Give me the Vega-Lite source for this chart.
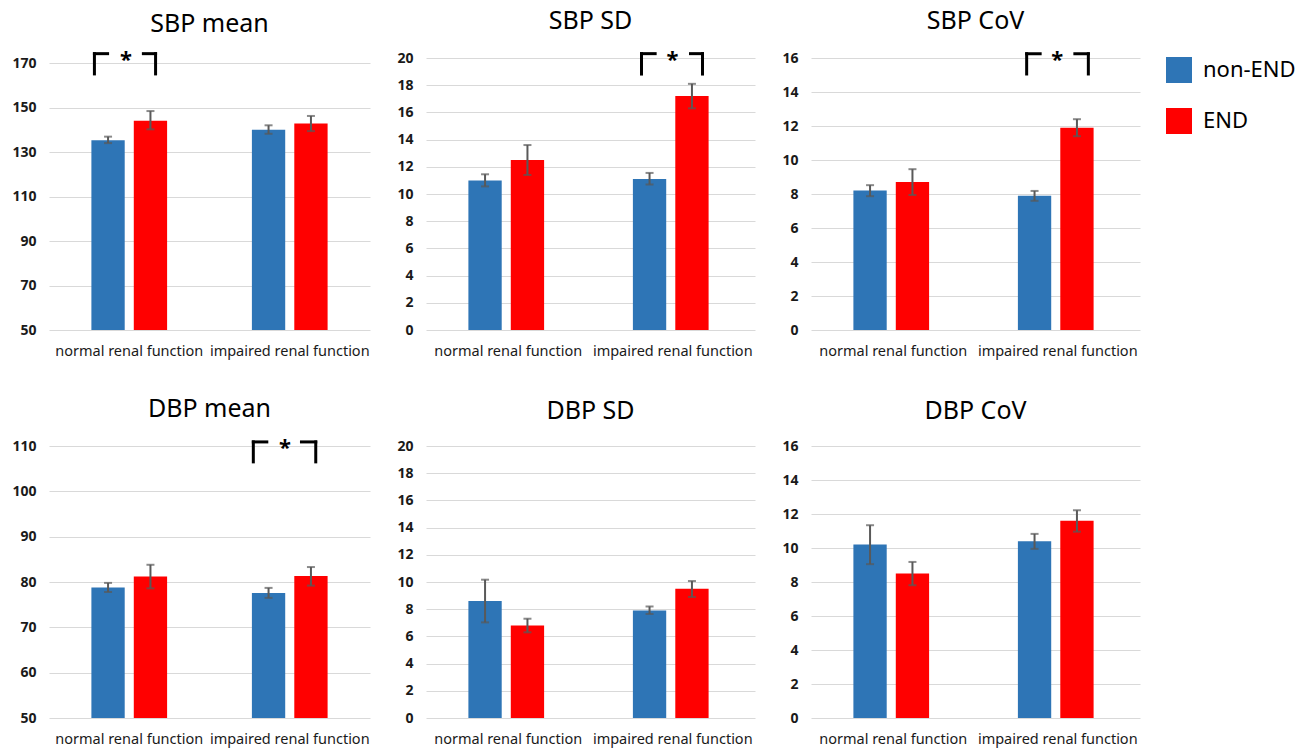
{
  "$schema": "https://vega.github.io/schema/vega-lite/v6.json",
  "background": "white",
  "padding": {"left": 11, "top": 8, "right": 10, "bottom": 5},
  "config": {
    "view": {"stroke": null},
    "font": "Noto Sans",
    "axis": {"domain": false, "ticks": false, "labelFont": "Noto Sans"},
    "axisY": {"grid": true, "gridColor": "#D9D9D9", "gridWidth": 1, "labelFontSize": 14, "labelFontWeight": "bold", "labelColor": "#1a1a1a", "labelPadding": 13, "labelOverlap": false, "tickCount": 30},
    "axisX": {"grid": false, "labelAngle": 0, "labelFontSize": 14.5, "labelColor": "#1a1a1a", "labelPadding": 14, "labelOverlap": false},
    "title": {"font": "Noto Sans", "fontSize": 25, "fontWeight": "normal", "color": "#000000", "anchor": "middle", "frame": "group", "baseline": "alphabetic", "offset": 15},
    "legend": {"orient": "none", "legendX": 1117, "legendY": -1, "symbolType": "square", "symbolSize": 676, "symbolStrokeWidth": 0, "symbolOpacity": 1, "labelFontSize": 22, "labelFont": "Noto Sans", "labelColor": "#000000", "rowPadding": 25, "labelOffset": 11}
  },
  "datasets": {
    "bars": [
      {"panel": "SBP mean", "cat": "normal renal function", "group": "non-END", "value": 135.3, "lo": 134.0, "hi": 136.9},
      {"panel": "SBP mean", "cat": "normal renal function", "group": "END", "value": 144.0, "lo": 140.2, "hi": 148.4},
      {"panel": "SBP mean", "cat": "impaired renal function", "group": "non-END", "value": 140.0, "lo": 138.2, "hi": 142.0},
      {"panel": "SBP mean", "cat": "impaired renal function", "group": "END", "value": 142.8, "lo": 139.4, "hi": 146.2},
      {"panel": "SBP SD", "cat": "normal renal function", "group": "non-END", "value": 11.0, "lo": 10.56, "hi": 11.45},
      {"panel": "SBP SD", "cat": "normal renal function", "group": "END", "value": 12.5, "lo": 11.4, "hi": 13.6},
      {"panel": "SBP SD", "cat": "impaired renal function", "group": "non-END", "value": 11.1, "lo": 10.7, "hi": 11.55},
      {"panel": "SBP SD", "cat": "impaired renal function", "group": "END", "value": 17.2, "lo": 16.3, "hi": 18.1},
      {"panel": "SBP CoV", "cat": "normal renal function", "group": "non-END", "value": 8.2, "lo": 7.87, "hi": 8.52},
      {"panel": "SBP CoV", "cat": "normal renal function", "group": "END", "value": 8.7, "lo": 7.94, "hi": 9.46},
      {"panel": "SBP CoV", "cat": "impaired renal function", "group": "non-END", "value": 7.9, "lo": 7.6, "hi": 8.18},
      {"panel": "SBP CoV", "cat": "impaired renal function", "group": "END", "value": 11.9, "lo": 11.4, "hi": 12.4},
      {"panel": "DBP mean", "cat": "normal renal function", "group": "non-END", "value": 78.8, "lo": 77.8, "hi": 79.8},
      {"panel": "DBP mean", "cat": "normal renal function", "group": "END", "value": 81.2, "lo": 78.6, "hi": 83.8},
      {"panel": "DBP mean", "cat": "impaired renal function", "group": "non-END", "value": 77.6, "lo": 76.5, "hi": 78.7},
      {"panel": "DBP mean", "cat": "impaired renal function", "group": "END", "value": 81.3, "lo": 79.2, "hi": 83.3},
      {"panel": "DBP SD", "cat": "normal renal function", "group": "non-END", "value": 8.6, "lo": 7.03, "hi": 10.17},
      {"panel": "DBP SD", "cat": "normal renal function", "group": "END", "value": 6.8, "lo": 6.3, "hi": 7.3},
      {"panel": "DBP SD", "cat": "impaired renal function", "group": "non-END", "value": 7.9, "lo": 7.65, "hi": 8.2},
      {"panel": "DBP SD", "cat": "impaired renal function", "group": "END", "value": 9.5, "lo": 8.9, "hi": 10.07},
      {"panel": "DBP CoV", "cat": "normal renal function", "group": "non-END", "value": 10.2, "lo": 9.05, "hi": 11.34},
      {"panel": "DBP CoV", "cat": "normal renal function", "group": "END", "value": 8.5, "lo": 7.81, "hi": 9.18},
      {"panel": "DBP CoV", "cat": "impaired renal function", "group": "non-END", "value": 10.4, "lo": 9.95, "hi": 10.83},
      {"panel": "DBP CoV", "cat": "impaired renal function", "group": "END", "value": 11.6, "lo": 10.96, "hi": 12.22}
    ],
    "sig": [
      {"panel": "SBP mean", "cat": "normal renal function", "top": 174.2, "bottom": 165.1, "sig": "*"},
      {"panel": "SBP SD", "cat": "impaired renal function", "top": 20.32, "bottom": 18.82, "sig": "*"},
      {"panel": "SBP CoV", "cat": "impaired renal function", "top": 16.25, "bottom": 15.06, "sig": "*"},
      {"panel": "DBP mean", "cat": "impaired renal function", "top": 110.9, "bottom": 106.5, "sig": "*"}
    ]
  },
  "bounds": "flush",
  "columns": 3,
  "spacing": {"row": 116, "column": 56},
  "concat": [
    {
      "width": 321, "height": 272,
      "title": {"text": "SBP mean", "offset": 12},
      "layer": [
        {"data": {"name": "bars"}, "transform": [{"filter": "datum.panel === 'SBP mean'"}],
         "mark": {"type": "bar"},
         "encoding": {
           "x": {"field": "cat", "type": "nominal", "sort": ["normal renal function", "impaired renal function"], "title": null, "scale": {"paddingInner": 0, "paddingOuter": 0}},
           "xOffset": {"field": "group", "type": "nominal", "sort": ["non-END", "END"], "scale": {"paddingInner": 0.2143, "paddingOuter": 2.045}},
           "y": {"field": "value", "type": "quantitative", "title": null, "scale": {"domain": [50, 172.25], "nice": false, "zero": false}, "axis": {"values": [50, 70, 90, 110, 130, 150, 170], "format": "d"}},
           "y2": {"datum": 50},
           "color": {"field": "group", "type": "nominal", "title": null, "sort": ["non-END", "END"], "scale": {"domain": ["non-END", "END"], "range": ["#2E75B6", "#FF0000"]}}
         }},
        {"data": {"name": "bars"}, "transform": [{"filter": "datum.panel === 'SBP mean'"}],
         "mark": {"type": "rule", "color": "#595959", "strokeWidth": 2},
         "encoding": {
           "x": {"field": "cat", "type": "nominal", "sort": ["normal renal function", "impaired renal function"], "title": null},
           "xOffset": {"field": "group", "type": "nominal", "sort": ["non-END", "END"]},
           "y": {"field": "lo", "type": "quantitative", "title": null}, "y2": {"field": "hi"}
         }},
        {"data": {"name": "bars"}, "transform": [{"filter": "datum.panel === 'SBP mean'"}],
         "mark": {"type": "tick", "color": "#595959", "thickness": 2, "size": 8},
         "encoding": {
           "x": {"field": "cat", "type": "nominal", "sort": ["normal renal function", "impaired renal function"], "title": null},
           "xOffset": {"field": "group", "type": "nominal", "sort": ["non-END", "END"]},
           "y": {"field": "lo", "type": "quantitative", "title": null}
         }},
        {"data": {"name": "bars"}, "transform": [{"filter": "datum.panel === 'SBP mean'"}],
         "mark": {"type": "tick", "color": "#595959", "thickness": 2, "size": 8},
         "encoding": {
           "x": {"field": "cat", "type": "nominal", "sort": ["normal renal function", "impaired renal function"], "title": null},
           "xOffset": {"field": "group", "type": "nominal", "sort": ["non-END", "END"]},
           "y": {"field": "hi", "type": "quantitative", "title": null}
         }},
        {"data": {"name": "sig"}, "transform": [{"filter": "datum.panel === 'SBP mean'"}],
         "mark": {"type": "rule", "color": "#000000", "strokeWidth": 3, "strokeCap": "square"},
         "encoding": {
           "x": {"field": "cat", "type": "nominal", "sort": ["normal renal function", "impaired renal function"], "title": null, "bandPosition": 0.283},
           "y": {"field": "top", "type": "quantitative", "title": null}, "y2": {"field": "bottom"}
         }},
        {"data": {"name": "sig"}, "transform": [{"filter": "datum.panel === 'SBP mean'"}],
         "mark": {"type": "rule", "color": "#000000", "strokeWidth": 3, "strokeCap": "square"},
         "encoding": {
           "x": {"field": "cat", "type": "nominal", "sort": ["normal renal function", "impaired renal function"], "title": null, "bandPosition": 0.283},
           "x2": {"field": "cat", "bandPosition": 0.365},
           "y": {"field": "top", "type": "quantitative", "title": null}
         }},
        {"data": {"name": "sig"}, "transform": [{"filter": "datum.panel === 'SBP mean'"}],
         "mark": {"type": "rule", "color": "#000000", "strokeWidth": 3, "strokeCap": "square"},
         "encoding": {
           "x": {"field": "cat", "type": "nominal", "sort": ["normal renal function", "impaired renal function"], "title": null, "bandPosition": 0.588},
           "x2": {"field": "cat", "bandPosition": 0.664},
           "y": {"field": "top", "type": "quantitative", "title": null}
         }},
        {"data": {"name": "sig"}, "transform": [{"filter": "datum.panel === 'SBP mean'"}],
         "mark": {"type": "rule", "color": "#000000", "strokeWidth": 3, "strokeCap": "square"},
         "encoding": {
           "x": {"field": "cat", "type": "nominal", "sort": ["normal renal function", "impaired renal function"], "title": null, "bandPosition": 0.664},
           "y": {"field": "top", "type": "quantitative", "title": null}, "y2": {"field": "bottom"}
         }},
        {"data": {"name": "sig"}, "transform": [{"filter": "datum.panel === 'SBP mean'"}],
         "mark": {"type": "text", "color": "#000000", "fontSize": 22, "fontWeight": "bold", "baseline": "middle", "dy": 6},
         "encoding": {
           "x": {"field": "cat", "type": "nominal", "sort": ["normal renal function", "impaired renal function"], "title": null, "bandPosition": 0.48},
           "y": {"field": "top", "type": "quantitative", "title": null},
           "text": {"field": "sig"}
         }}
      ]
    },
    {
      "width": 329, "height": 272,
      "title": "SBP SD",
      "layer": [
        {"data": {"name": "bars"}, "transform": [{"filter": "datum.panel === 'SBP SD'"}],
         "mark": {"type": "bar"},
         "encoding": {
           "x": {"field": "cat", "type": "nominal", "sort": ["normal renal function", "impaired renal function"], "title": null, "scale": {"paddingInner": 0, "paddingOuter": 0}},
           "xOffset": {"field": "group", "type": "nominal", "sort": ["non-END", "END"], "scale": {"paddingInner": 0.2143, "paddingOuter": 2.045}},
           "y": {"field": "value", "type": "quantitative", "title": null, "scale": {"domain": [0, 20], "nice": false, "zero": false}, "axis": {"values": [0, 2, 4, 6, 8, 10, 12, 14, 16, 18, 20], "format": "d"}},
           "color": {"field": "group", "type": "nominal", "title": null, "sort": ["non-END", "END"], "scale": {"domain": ["non-END", "END"], "range": ["#2E75B6", "#FF0000"]}}
         }},
        {"data": {"name": "bars"}, "transform": [{"filter": "datum.panel === 'SBP SD'"}],
         "mark": {"type": "rule", "color": "#595959", "strokeWidth": 2},
         "encoding": {
           "x": {"field": "cat", "type": "nominal", "sort": ["normal renal function", "impaired renal function"], "title": null},
           "xOffset": {"field": "group", "type": "nominal", "sort": ["non-END", "END"]},
           "y": {"field": "lo", "type": "quantitative", "title": null}, "y2": {"field": "hi"}
         }},
        {"data": {"name": "bars"}, "transform": [{"filter": "datum.panel === 'SBP SD'"}],
         "mark": {"type": "tick", "color": "#595959", "thickness": 2, "size": 8},
         "encoding": {
           "x": {"field": "cat", "type": "nominal", "sort": ["normal renal function", "impaired renal function"], "title": null},
           "xOffset": {"field": "group", "type": "nominal", "sort": ["non-END", "END"]},
           "y": {"field": "lo", "type": "quantitative", "title": null}
         }},
        {"data": {"name": "bars"}, "transform": [{"filter": "datum.panel === 'SBP SD'"}],
         "mark": {"type": "tick", "color": "#595959", "thickness": 2, "size": 8},
         "encoding": {
           "x": {"field": "cat", "type": "nominal", "sort": ["normal renal function", "impaired renal function"], "title": null},
           "xOffset": {"field": "group", "type": "nominal", "sort": ["non-END", "END"]},
           "y": {"field": "hi", "type": "quantitative", "title": null}
         }},
        {"data": {"name": "sig"}, "transform": [{"filter": "datum.panel === 'SBP SD'"}],
         "mark": {"type": "rule", "color": "#000000", "strokeWidth": 3, "strokeCap": "square"},
         "encoding": {
           "x": {"field": "cat", "type": "nominal", "sort": ["normal renal function", "impaired renal function"], "title": null, "bandPosition": 0.31},
           "y": {"field": "top", "type": "quantitative", "title": null}, "y2": {"field": "bottom"}
         }},
        {"data": {"name": "sig"}, "transform": [{"filter": "datum.panel === 'SBP SD'"}],
         "mark": {"type": "rule", "color": "#000000", "strokeWidth": 3, "strokeCap": "square"},
         "encoding": {
           "x": {"field": "cat", "type": "nominal", "sort": ["normal renal function", "impaired renal function"], "title": null, "bandPosition": 0.31},
           "x2": {"field": "cat", "bandPosition": 0.393},
           "y": {"field": "top", "type": "quantitative", "title": null}
         }},
        {"data": {"name": "sig"}, "transform": [{"filter": "datum.panel === 'SBP SD'"}],
         "mark": {"type": "rule", "color": "#000000", "strokeWidth": 3, "strokeCap": "square"},
         "encoding": {
           "x": {"field": "cat", "type": "nominal", "sort": ["normal renal function", "impaired renal function"], "title": null, "bandPosition": 0.608},
           "x2": {"field": "cat", "bandPosition": 0.681},
           "y": {"field": "top", "type": "quantitative", "title": null}
         }},
        {"data": {"name": "sig"}, "transform": [{"filter": "datum.panel === 'SBP SD'"}],
         "mark": {"type": "rule", "color": "#000000", "strokeWidth": 3, "strokeCap": "square"},
         "encoding": {
           "x": {"field": "cat", "type": "nominal", "sort": ["normal renal function", "impaired renal function"], "title": null, "bandPosition": 0.681},
           "y": {"field": "top", "type": "quantitative", "title": null}, "y2": {"field": "bottom"}
         }},
        {"data": {"name": "sig"}, "transform": [{"filter": "datum.panel === 'SBP SD'"}],
         "mark": {"type": "text", "color": "#000000", "fontSize": 22, "fontWeight": "bold", "baseline": "middle", "dy": 6},
         "encoding": {
           "x": {"field": "cat", "type": "nominal", "sort": ["normal renal function", "impaired renal function"], "title": null, "bandPosition": 0.498},
           "y": {"field": "top", "type": "quantitative", "title": null},
           "text": {"field": "sig"}
         }}
      ]
    },
    {
      "width": 329, "height": 272,
      "title": "SBP CoV",
      "layer": [
        {"data": {"name": "bars"}, "transform": [{"filter": "datum.panel === 'SBP CoV'"}],
         "mark": {"type": "bar"},
         "encoding": {
           "x": {"field": "cat", "type": "nominal", "sort": ["normal renal function", "impaired renal function"], "title": null, "scale": {"paddingInner": 0, "paddingOuter": 0}},
           "xOffset": {"field": "group", "type": "nominal", "sort": ["non-END", "END"], "scale": {"paddingInner": 0.2143, "paddingOuter": 2.045}},
           "y": {"field": "value", "type": "quantitative", "title": null, "scale": {"domain": [0, 16], "nice": false, "zero": false}, "axis": {"values": [0, 2, 4, 6, 8, 10, 12, 14, 16], "format": "d"}},
           "color": {"field": "group", "type": "nominal", "title": null, "sort": ["non-END", "END"], "scale": {"domain": ["non-END", "END"], "range": ["#2E75B6", "#FF0000"]}}
         }},
        {"data": {"name": "bars"}, "transform": [{"filter": "datum.panel === 'SBP CoV'"}],
         "mark": {"type": "rule", "color": "#595959", "strokeWidth": 2},
         "encoding": {
           "x": {"field": "cat", "type": "nominal", "sort": ["normal renal function", "impaired renal function"], "title": null},
           "xOffset": {"field": "group", "type": "nominal", "sort": ["non-END", "END"]},
           "y": {"field": "lo", "type": "quantitative", "title": null}, "y2": {"field": "hi"}
         }},
        {"data": {"name": "bars"}, "transform": [{"filter": "datum.panel === 'SBP CoV'"}],
         "mark": {"type": "tick", "color": "#595959", "thickness": 2, "size": 8},
         "encoding": {
           "x": {"field": "cat", "type": "nominal", "sort": ["normal renal function", "impaired renal function"], "title": null},
           "xOffset": {"field": "group", "type": "nominal", "sort": ["non-END", "END"]},
           "y": {"field": "lo", "type": "quantitative", "title": null}
         }},
        {"data": {"name": "bars"}, "transform": [{"filter": "datum.panel === 'SBP CoV'"}],
         "mark": {"type": "tick", "color": "#595959", "thickness": 2, "size": 8},
         "encoding": {
           "x": {"field": "cat", "type": "nominal", "sort": ["normal renal function", "impaired renal function"], "title": null},
           "xOffset": {"field": "group", "type": "nominal", "sort": ["non-END", "END"]},
           "y": {"field": "hi", "type": "quantitative", "title": null}
         }},
        {"data": {"name": "sig"}, "transform": [{"filter": "datum.panel === 'SBP CoV'"}],
         "mark": {"type": "rule", "color": "#000000", "strokeWidth": 3, "strokeCap": "square"},
         "encoding": {
           "x": {"field": "cat", "type": "nominal", "sort": ["normal renal function", "impaired renal function"], "title": null, "bandPosition": 0.311},
           "y": {"field": "top", "type": "quantitative", "title": null}, "y2": {"field": "bottom"}
         }},
        {"data": {"name": "sig"}, "transform": [{"filter": "datum.panel === 'SBP CoV'"}],
         "mark": {"type": "rule", "color": "#000000", "strokeWidth": 3, "strokeCap": "square"},
         "encoding": {
           "x": {"field": "cat", "type": "nominal", "sort": ["normal renal function", "impaired renal function"], "title": null, "bandPosition": 0.311},
           "x2": {"field": "cat", "bandPosition": 0.393},
           "y": {"field": "top", "type": "quantitative", "title": null}
         }},
        {"data": {"name": "sig"}, "transform": [{"filter": "datum.panel === 'SBP CoV'"}],
         "mark": {"type": "rule", "color": "#000000", "strokeWidth": 3, "strokeCap": "square"},
         "encoding": {
           "x": {"field": "cat", "type": "nominal", "sort": ["normal renal function", "impaired renal function"], "title": null, "bandPosition": 0.604},
           "x2": {"field": "cat", "bandPosition": 0.686},
           "y": {"field": "top", "type": "quantitative", "title": null}
         }},
        {"data": {"name": "sig"}, "transform": [{"filter": "datum.panel === 'SBP CoV'"}],
         "mark": {"type": "rule", "color": "#000000", "strokeWidth": 3, "strokeCap": "square"},
         "encoding": {
           "x": {"field": "cat", "type": "nominal", "sort": ["normal renal function", "impaired renal function"], "title": null, "bandPosition": 0.686},
           "y": {"field": "top", "type": "quantitative", "title": null}, "y2": {"field": "bottom"}
         }},
        {"data": {"name": "sig"}, "transform": [{"filter": "datum.panel === 'SBP CoV'"}],
         "mark": {"type": "text", "color": "#000000", "fontSize": 22, "fontWeight": "bold", "baseline": "middle", "dy": 6},
         "encoding": {
           "x": {"field": "cat", "type": "nominal", "sort": ["normal renal function", "impaired renal function"], "title": null, "bandPosition": 0.497},
           "y": {"field": "top", "type": "quantitative", "title": null},
           "text": {"field": "sig"}
         }}
      ]
    },
    {
      "width": 321, "height": 272,
      "title": "DBP mean",
      "layer": [
        {"data": {"name": "bars"}, "transform": [{"filter": "datum.panel === 'DBP mean'"}],
         "mark": {"type": "bar"},
         "encoding": {
           "x": {"field": "cat", "type": "nominal", "sort": ["normal renal function", "impaired renal function"], "title": null, "scale": {"paddingInner": 0, "paddingOuter": 0}},
           "xOffset": {"field": "group", "type": "nominal", "sort": ["non-END", "END"], "scale": {"paddingInner": 0.2143, "paddingOuter": 2.045}},
           "y": {"field": "value", "type": "quantitative", "title": null, "scale": {"domain": [50, 110], "nice": false, "zero": false}, "axis": {"values": [50, 60, 70, 80, 90, 100, 110], "format": "d"}},
           "y2": {"datum": 50},
           "color": {"field": "group", "type": "nominal", "title": null, "sort": ["non-END", "END"], "scale": {"domain": ["non-END", "END"], "range": ["#2E75B6", "#FF0000"]}}
         }},
        {"data": {"name": "bars"}, "transform": [{"filter": "datum.panel === 'DBP mean'"}],
         "mark": {"type": "rule", "color": "#595959", "strokeWidth": 2},
         "encoding": {
           "x": {"field": "cat", "type": "nominal", "sort": ["normal renal function", "impaired renal function"], "title": null},
           "xOffset": {"field": "group", "type": "nominal", "sort": ["non-END", "END"]},
           "y": {"field": "lo", "type": "quantitative", "title": null}, "y2": {"field": "hi"}
         }},
        {"data": {"name": "bars"}, "transform": [{"filter": "datum.panel === 'DBP mean'"}],
         "mark": {"type": "tick", "color": "#595959", "thickness": 2, "size": 8},
         "encoding": {
           "x": {"field": "cat", "type": "nominal", "sort": ["normal renal function", "impaired renal function"], "title": null},
           "xOffset": {"field": "group", "type": "nominal", "sort": ["non-END", "END"]},
           "y": {"field": "lo", "type": "quantitative", "title": null}
         }},
        {"data": {"name": "bars"}, "transform": [{"filter": "datum.panel === 'DBP mean'"}],
         "mark": {"type": "tick", "color": "#595959", "thickness": 2, "size": 8},
         "encoding": {
           "x": {"field": "cat", "type": "nominal", "sort": ["normal renal function", "impaired renal function"], "title": null},
           "xOffset": {"field": "group", "type": "nominal", "sort": ["non-END", "END"]},
           "y": {"field": "hi", "type": "quantitative", "title": null}
         }},
        {"data": {"name": "sig"}, "transform": [{"filter": "datum.panel === 'DBP mean'"}],
         "mark": {"type": "rule", "color": "#000000", "strokeWidth": 3, "strokeCap": "square"},
         "encoding": {
           "x": {"field": "cat", "type": "nominal", "sort": ["normal renal function", "impaired renal function"], "title": null, "bandPosition": 0.273},
           "y": {"field": "top", "type": "quantitative", "title": null}, "y2": {"field": "bottom"}
         }},
        {"data": {"name": "sig"}, "transform": [{"filter": "datum.panel === 'DBP mean'"}],
         "mark": {"type": "rule", "color": "#000000", "strokeWidth": 3, "strokeCap": "square"},
         "encoding": {
           "x": {"field": "cat", "type": "nominal", "sort": ["normal renal function", "impaired renal function"], "title": null, "bandPosition": 0.273},
           "x2": {"field": "cat", "bandPosition": 0.357},
           "y": {"field": "top", "type": "quantitative", "title": null}
         }},
        {"data": {"name": "sig"}, "transform": [{"filter": "datum.panel === 'DBP mean'"}],
         "mark": {"type": "rule", "color": "#000000", "strokeWidth": 3, "strokeCap": "square"},
         "encoding": {
           "x": {"field": "cat", "type": "nominal", "sort": ["normal renal function", "impaired renal function"], "title": null, "bandPosition": 0.573},
           "x2": {"field": "cat", "bandPosition": 0.662},
           "y": {"field": "top", "type": "quantitative", "title": null}
         }},
        {"data": {"name": "sig"}, "transform": [{"filter": "datum.panel === 'DBP mean'"}],
         "mark": {"type": "rule", "color": "#000000", "strokeWidth": 3, "strokeCap": "square"},
         "encoding": {
           "x": {"field": "cat", "type": "nominal", "sort": ["normal renal function", "impaired renal function"], "title": null, "bandPosition": 0.662},
           "y": {"field": "top", "type": "quantitative", "title": null}, "y2": {"field": "bottom"}
         }},
        {"data": {"name": "sig"}, "transform": [{"filter": "datum.panel === 'DBP mean'"}],
         "mark": {"type": "text", "color": "#000000", "fontSize": 22, "fontWeight": "bold", "baseline": "middle", "dy": 6},
         "encoding": {
           "x": {"field": "cat", "type": "nominal", "sort": ["normal renal function", "impaired renal function"], "title": null, "bandPosition": 0.47},
           "y": {"field": "top", "type": "quantitative", "title": null},
           "text": {"field": "sig"}
         }}
      ]
    },
    {
      "width": 329, "height": 272,
      "title": "DBP SD",
      "layer": [
        {"data": {"name": "bars"}, "transform": [{"filter": "datum.panel === 'DBP SD'"}],
         "mark": {"type": "bar"},
         "encoding": {
           "x": {"field": "cat", "type": "nominal", "sort": ["normal renal function", "impaired renal function"], "title": null, "scale": {"paddingInner": 0, "paddingOuter": 0}},
           "xOffset": {"field": "group", "type": "nominal", "sort": ["non-END", "END"], "scale": {"paddingInner": 0.2143, "paddingOuter": 2.045}},
           "y": {"field": "value", "type": "quantitative", "title": null, "scale": {"domain": [0, 20], "nice": false, "zero": false}, "axis": {"values": [0, 2, 4, 6, 8, 10, 12, 14, 16, 18, 20], "format": "d"}},
           "color": {"field": "group", "type": "nominal", "title": null, "sort": ["non-END", "END"], "scale": {"domain": ["non-END", "END"], "range": ["#2E75B6", "#FF0000"]}}
         }},
        {"data": {"name": "bars"}, "transform": [{"filter": "datum.panel === 'DBP SD'"}],
         "mark": {"type": "rule", "color": "#595959", "strokeWidth": 2},
         "encoding": {
           "x": {"field": "cat", "type": "nominal", "sort": ["normal renal function", "impaired renal function"], "title": null},
           "xOffset": {"field": "group", "type": "nominal", "sort": ["non-END", "END"]},
           "y": {"field": "lo", "type": "quantitative", "title": null}, "y2": {"field": "hi"}
         }},
        {"data": {"name": "bars"}, "transform": [{"filter": "datum.panel === 'DBP SD'"}],
         "mark": {"type": "tick", "color": "#595959", "thickness": 2, "size": 8},
         "encoding": {
           "x": {"field": "cat", "type": "nominal", "sort": ["normal renal function", "impaired renal function"], "title": null},
           "xOffset": {"field": "group", "type": "nominal", "sort": ["non-END", "END"]},
           "y": {"field": "lo", "type": "quantitative", "title": null}
         }},
        {"data": {"name": "bars"}, "transform": [{"filter": "datum.panel === 'DBP SD'"}],
         "mark": {"type": "tick", "color": "#595959", "thickness": 2, "size": 8},
         "encoding": {
           "x": {"field": "cat", "type": "nominal", "sort": ["normal renal function", "impaired renal function"], "title": null},
           "xOffset": {"field": "group", "type": "nominal", "sort": ["non-END", "END"]},
           "y": {"field": "hi", "type": "quantitative", "title": null}
         }}
      ]
    },
    {
      "width": 329, "height": 272,
      "title": "DBP CoV",
      "layer": [
        {"data": {"name": "bars"}, "transform": [{"filter": "datum.panel === 'DBP CoV'"}],
         "mark": {"type": "bar"},
         "encoding": {
           "x": {"field": "cat", "type": "nominal", "sort": ["normal renal function", "impaired renal function"], "title": null, "scale": {"paddingInner": 0, "paddingOuter": 0}},
           "xOffset": {"field": "group", "type": "nominal", "sort": ["non-END", "END"], "scale": {"paddingInner": 0.2143, "paddingOuter": 2.045}},
           "y": {"field": "value", "type": "quantitative", "title": null, "scale": {"domain": [0, 16], "nice": false, "zero": false}, "axis": {"values": [0, 2, 4, 6, 8, 10, 12, 14, 16], "format": "d"}},
           "color": {"field": "group", "type": "nominal", "title": null, "sort": ["non-END", "END"], "scale": {"domain": ["non-END", "END"], "range": ["#2E75B6", "#FF0000"]}}
         }},
        {"data": {"name": "bars"}, "transform": [{"filter": "datum.panel === 'DBP CoV'"}],
         "mark": {"type": "rule", "color": "#595959", "strokeWidth": 2},
         "encoding": {
           "x": {"field": "cat", "type": "nominal", "sort": ["normal renal function", "impaired renal function"], "title": null},
           "xOffset": {"field": "group", "type": "nominal", "sort": ["non-END", "END"]},
           "y": {"field": "lo", "type": "quantitative", "title": null}, "y2": {"field": "hi"}
         }},
        {"data": {"name": "bars"}, "transform": [{"filter": "datum.panel === 'DBP CoV'"}],
         "mark": {"type": "tick", "color": "#595959", "thickness": 2, "size": 8},
         "encoding": {
           "x": {"field": "cat", "type": "nominal", "sort": ["normal renal function", "impaired renal function"], "title": null},
           "xOffset": {"field": "group", "type": "nominal", "sort": ["non-END", "END"]},
           "y": {"field": "lo", "type": "quantitative", "title": null}
         }},
        {"data": {"name": "bars"}, "transform": [{"filter": "datum.panel === 'DBP CoV'"}],
         "mark": {"type": "tick", "color": "#595959", "thickness": 2, "size": 8},
         "encoding": {
           "x": {"field": "cat", "type": "nominal", "sort": ["normal renal function", "impaired renal function"], "title": null},
           "xOffset": {"field": "group", "type": "nominal", "sort": ["non-END", "END"]},
           "y": {"field": "hi", "type": "quantitative", "title": null}
         }}
      ]
    }
  ]
}
